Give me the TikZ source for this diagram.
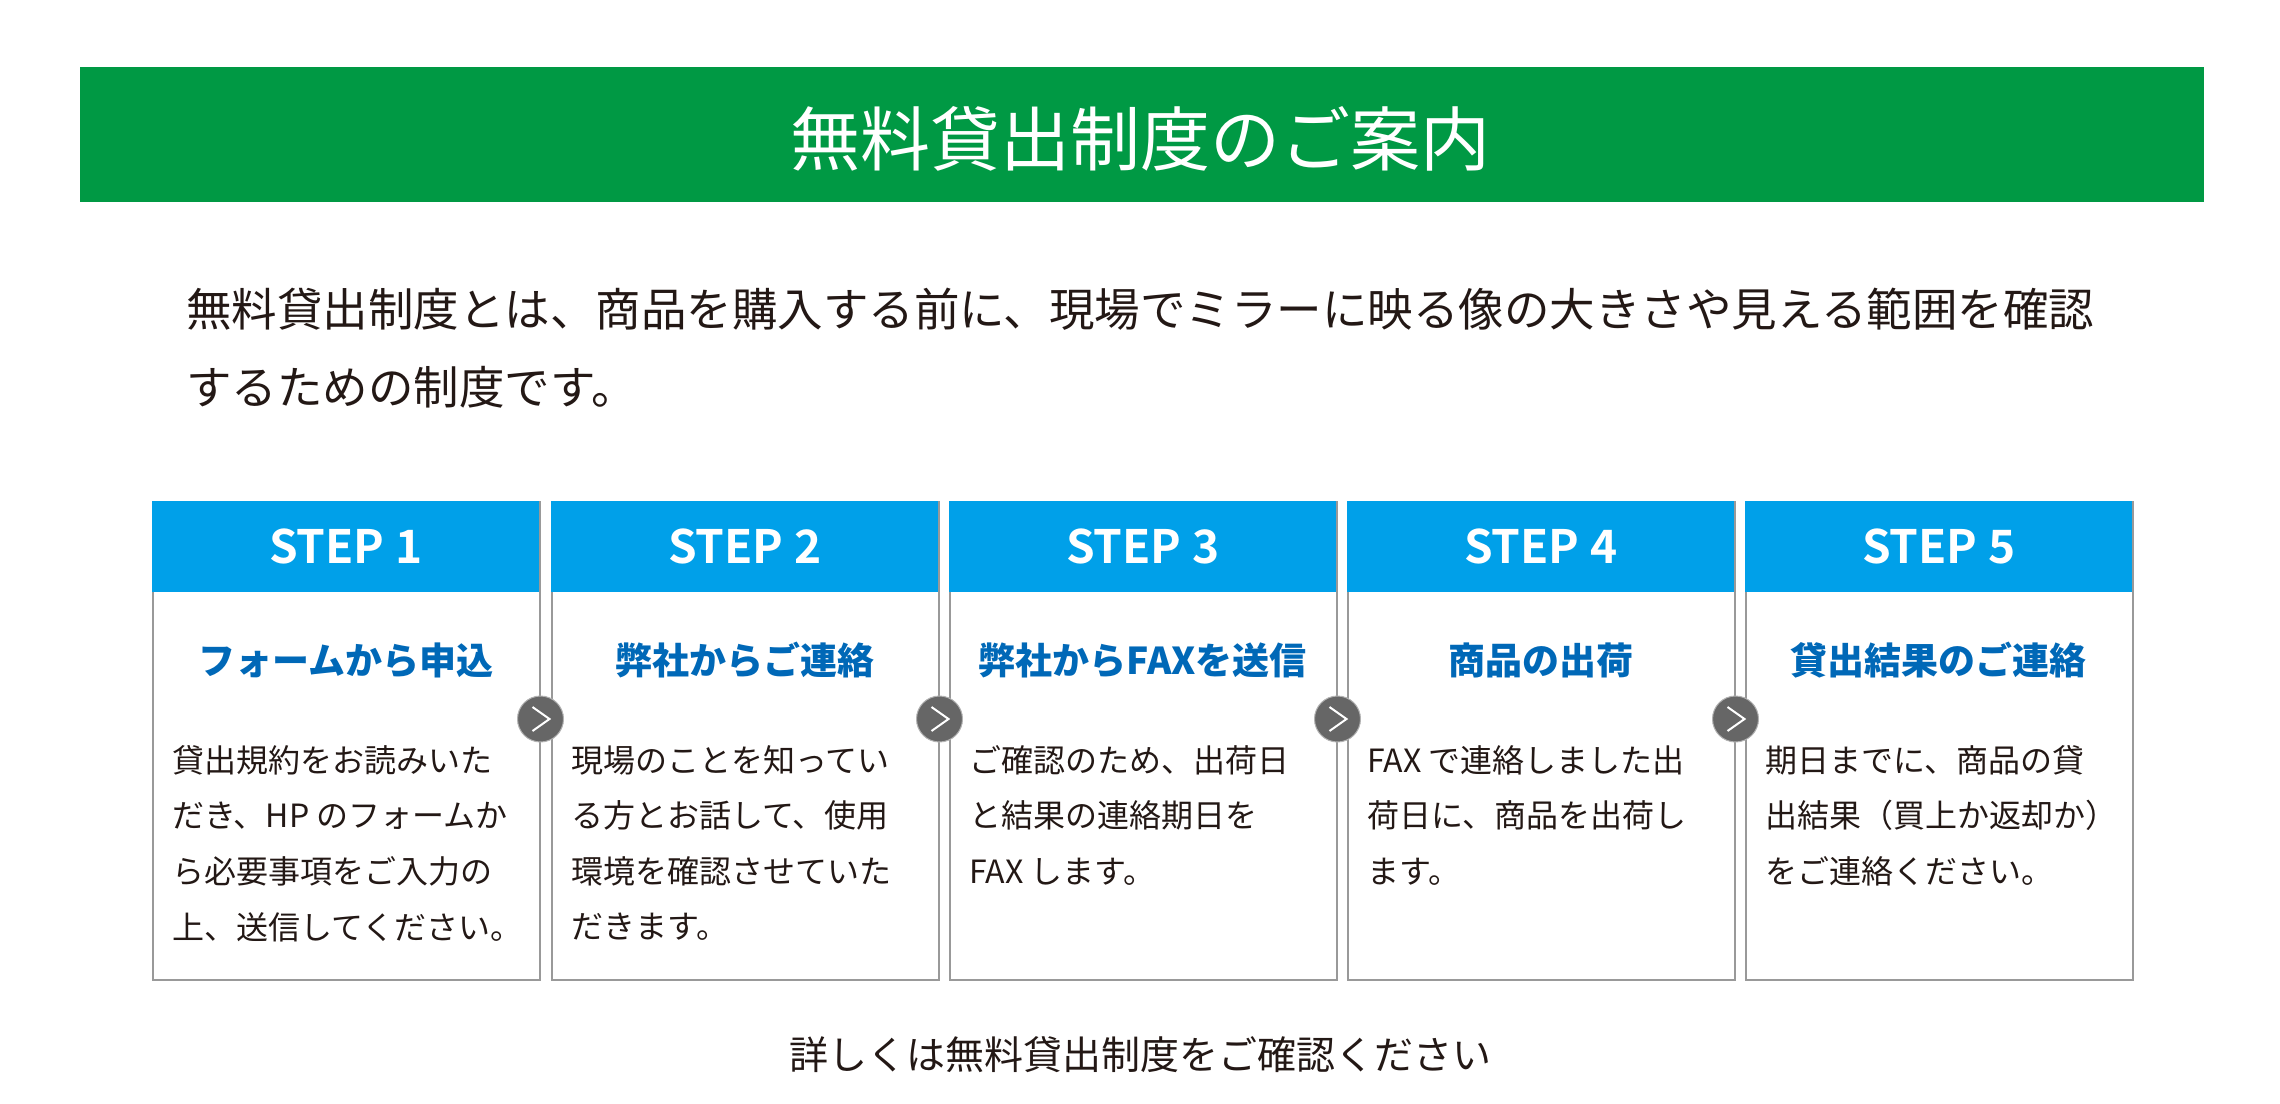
\documentclass[tikz,border=0pt]{standalone}
\usepackage{fontspec}
\setmainfont{Noto Sans CJK JP}
\newfontfamily\stepfont{Noto Sans CJK JP}[BoldFont={* Bold}]
\definecolor{grn}{HTML}{009944}
\definecolor{hblue}{HTML}{00A0E9}
\definecolor{sblue}{HTML}{0068B7}
\definecolor{txt}{HTML}{231815}
\begin{document}
\begin{tikzpicture}[x=1pt,y=-1pt,
  hdr/.style={fill=hblue,draw=none,minimum width=387pt,minimum height=91pt,anchor=north west,inner sep=0,font=\stepfont\bfseries\fontsize{46}{46}\selectfont,text=white},
  card/.style={draw=black!40,line width=1.5pt,minimum width=387pt,minimum height=478pt,anchor=north west,inner sep=0},
  sub/.style={text=sblue,font=\bfseries\fontsize{37}{37}\selectfont,inner sep=0},
  body/.style={text=txt,font=\fontsize{32}{55.6}\selectfont,align=left,anchor=north west,inner sep=0},
  arr/.style={circle,fill=black!60,draw=black!30,line width=1pt,minimum size=46pt,inner sep=0}]
\useasboundingbox (0,0) rectangle (2280,1103);
\node[fill=grn,minimum width=2124pt,minimum height=135pt,anchor=north west,inner sep=0] (bar) at (80,67) {};
\node[text=white,font=\fontsize{70}{70}\selectfont] (title) at (1140,139) {無料貸出制度のご案内};
\node[text=txt,font=\fontsize{45.5}{78}\selectfont,align=left,anchor=north west,inner sep=0] (intro) at (186,288)
 {無料貸出制度とは、商品を購入する前に、現場でミラーに映る像の大きさや見える範囲を確認\\するための制度です。};
\foreach \i/\x/\s/\b in {
 1/152/フォームから申込/{貸出規約をお読みいた\\だき、HP のフォームか\\ら必要事項をご入力の\\上、送信してください。},
 2/551/弊社からご連絡/{現場のことを知ってい\\る方とお話して、使用\\環境を確認させていた\\だきます。},
 3/949/弊社からFAXを送信/{ご確認のため、出荷日\\と結果の連絡期日を\\FAX します。},
 4/1347/商品の出荷/{FAX で連絡しました出\\荷日に、商品を出荷し\\ます。},
 5/1745/貸出結果のご連絡/{期日までに、商品の貸\\出結果（買上か返却か）\\をご連絡ください。}}{
  \node[card] (card\i) at (\x,501) {};
  \node[hdr] (hdr\i) at (\x,501) {STEP \i};
  \node[sub] (sub\i) at ([yshift=-68pt]hdr\i.south) {\s};
  \node[body] (body\i) at ([xshift=20pt,yshift=-244pt]card\i.north west) {\b};
}
\foreach \i in {1,2,3,4}{
  \node[arr] (c\i) at ([yshift=-218pt]card\i.north east) {};
  \draw[white,line width=2pt] ([xshift=-8pt,yshift=-12pt]c\i.center) -- ([xshift=9pt]c\i.center) -- ([xshift=-8pt,yshift=12pt]c\i.center);
}
\node[text=txt,font=\fontsize{39}{39}\selectfont] (foot) at (1140,1055) {詳しくは無料貸出制度をご確認ください};
\end{tikzpicture}
\end{document}
